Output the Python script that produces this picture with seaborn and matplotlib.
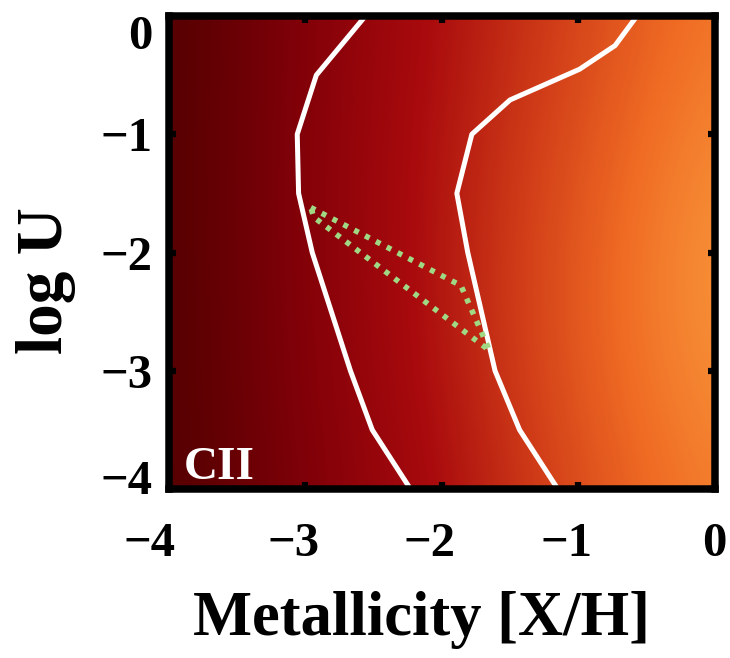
import numpy as np
import pandas as pd
import matplotlib
matplotlib.use("Agg")
import matplotlib.pyplot as plt
from matplotlib.colors import LinearSegmentedColormap
from matplotlib.transforms import ScaledTranslation
import seaborn as sns

# ---------------- data ----------------
metallicity_grid = [-4, -3, -2, -1, 0]
logu_grid = [0, -1, -2, -3, -4]
# relative CII intensity (0..1) read from the colour field, rows = logU (top->bottom)
intensity_u0 = [0.02, 0.22, 0.42, 0.63, 0.86]
intensity_u1 = [0.02, 0.23, 0.44, 0.68, 0.93]
intensity_u2 = [0.02, 0.23, 0.45, 0.72, 0.98]
intensity_u3 = [0.02, 0.22, 0.44, 0.72, 0.96]
intensity_u4 = [0.02, 0.20, 0.40, 0.67, 0.89]

left_contour_x = [-2.56, -2.92, -3.06, -3.05, -2.95, -2.81, -2.67, -2.51, -2.23]
left_contour_y = [0.0, -0.5, -1.0, -1.5, -2.0, -2.5, -3.0, -3.5, -4.0]
right_contour_x = [-0.57, -0.73, -0.99, -1.50, -1.78, -1.89, -1.81, -1.71, -1.61, -1.43, -1.15]
right_contour_y = [0.0, -0.25, -0.45, -0.71, -1.0, -1.5, -2.0, -2.5, -3.0, -3.5, -4.0]

region_x = [-2.96, -1.86, -1.65, -2.94, -2.96]
region_y = [-1.62, -2.28, -2.83, -1.70, -1.62]

x_ticks = [-4, -3, -2, -1, 0]
y_ticks = [0, -1, -2, -3, -4]
x_label = "Metallicity [X/H]"
y_label = "log U"
panel_label = "CII"

# ---------------- style ----------------
sns.set_theme(style="white")
plt.rcParams["font.family"] = ["Liberation Serif", "DejaVu Serif"]
plt.rcParams["font.weight"] = "bold"
plt.rcParams["axes.unicode_minus"] = True
plt.rcParams["text.color"] = "black"

cmap = LinearSegmentedColormap.from_list(
    "cii", ["#4a0000", "#7e0008", "#a80a0d", "#d03c18", "#f06c24", "#fa9e3e"])

fig = plt.figure(figsize=(7.3, 6.58), dpi=100)
ax = fig.add_axes([0.2315, 0.2568, 0.7475, 0.7189])

Z = np.array([intensity_u0, intensity_u1, intensity_u2, intensity_u3, intensity_u4])
ax.imshow(Z, cmap=cmap, vmin=0, vmax=1, interpolation="bicubic", aspect="auto",
          extent=[metallicity_grid[0] - 0.5, metallicity_grid[-1] + 0.5,
                  logu_grid[-1] - 0.5, logu_grid[0] + 0.5], zorder=0)

left_df = pd.DataFrame({"x": left_contour_x, "y": left_contour_y})
right_df = pd.DataFrame({"x": right_contour_x, "y": right_contour_y})
reg_df = pd.DataFrame({"x": region_x, "y": region_y})

sns.lineplot(data=left_df, x="x", y="y", sort=False, estimator=None, color="white",
             lw=3.6, ax=ax, legend=False, zorder=3)
sns.lineplot(data=right_df, x="x", y="y", sort=False, estimator=None, color="white",
             lw=3.6, ax=ax, legend=False, zorder=3)
sns.lineplot(data=reg_df, x="x", y="y", sort=False, estimator=None, color="#a0d884",
             lw=4.0, ax=ax, legend=False, zorder=4, linestyle=(0, (0.9, 1.3)))

ax.set_xlim(-4, 0)
ax.set_ylim(-4, 0)
ax.set_xticks(x_ticks)
ax.set_yticks(y_ticks)
ax.set_xticklabels([f"\u2212{abs(v)}" if v < 0 else str(v) for v in x_ticks])
ax.set_yticklabels([f"\u2212{abs(v)}" if v < 0 else str(v) for v in y_ticks])

for s in ax.spines.values():
    s.set_visible(True)
    s.set_linewidth(5.4)
    s.set_color("black")
    s.set_zorder(5)

ax.tick_params(axis="both", which="major", direction="in", length=5, width=4.5,
               color="black", labelcolor="black", labelsize=35,
               top=True, right=True, bottom=True, left=True,
               labeltop=False, labelright=False)
ax.tick_params(axis="x", pad=24)
ax.tick_params(axis="y", pad=12)

ax.set_xlabel(x_label, fontsize=45, fontweight="bold", color="black")
ax.set_ylabel(y_label, fontsize=47, fontweight="bold", color="black")
ax.xaxis.set_label_coords(0.463, -0.216)
ax.yaxis.set_label_coords(-0.17, 0.44)

ax.text(0.027, 0.0, panel_label, transform=ax.transAxes, color="white",
        fontsize=34, fontweight="bold", ha="left", va="bottom", zorder=6)

# digit-centred tick labels (the minus sign hangs to the left)
for tick, v in zip(ax.xaxis.get_major_ticks(), x_ticks):
    dx = -12 if v < 0 else 0
    if v == -4:
        dx = -20
    tick.label1.set_transform(tick.label1.get_transform() +
                              ScaledTranslation(dx / 100, 0, fig.dpi_scale_trans))
for tick, v in zip(ax.yaxis.get_major_ticks(), y_ticks):
    dy = 0
    if v == 0:
        dy = -16
    if v == -4:
        dy = 12
    tick.label1.set_transform(tick.label1.get_transform() +
                              ScaledTranslation(0, dy / 100, fig.dpi_scale_trans))

fig.savefig("out.png", dpi=100)
